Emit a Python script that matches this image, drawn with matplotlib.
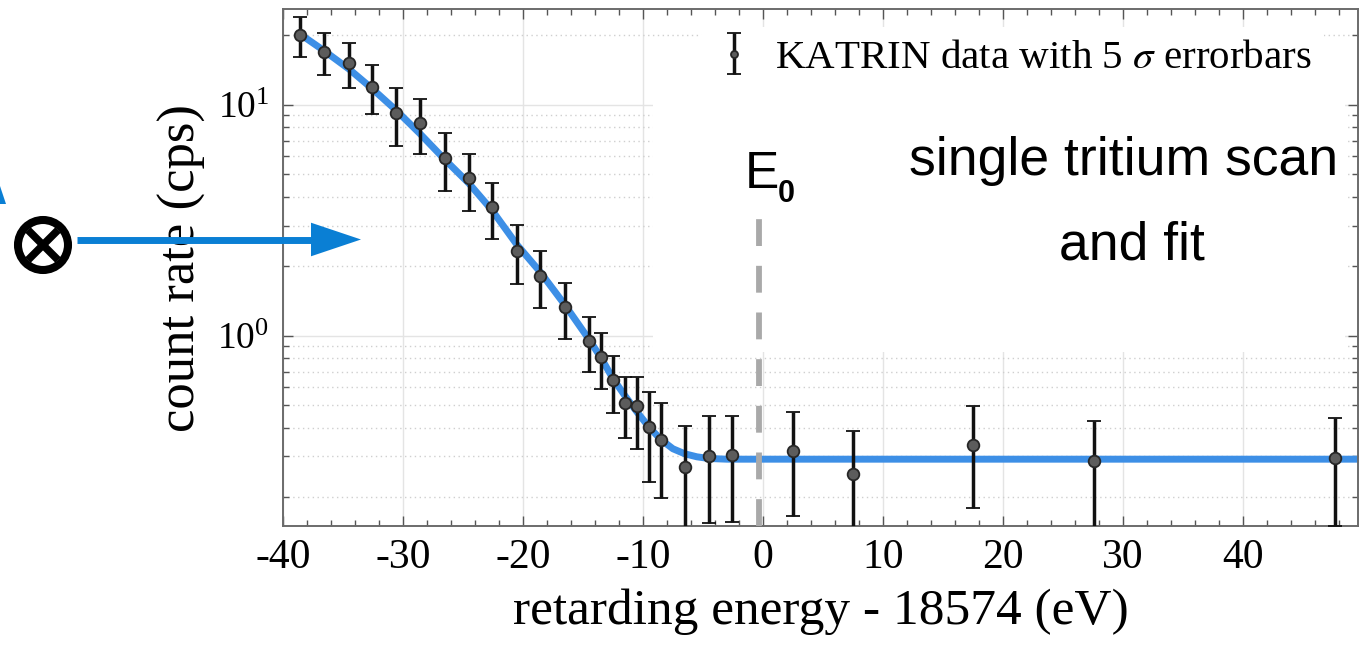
import matplotlib
matplotlib.use("Agg")
import matplotlib.pyplot as plt
from matplotlib.patches import Circle, Polygon, Rectangle
from matplotlib.ticker import MultipleLocator, LogLocator, NullFormatter

plt.rcParams['font.family'] = ['Liberation Serif', 'DejaVu Serif']
plt.rcParams['mathtext.fontset'] = 'stix'
plt.rcParams['axes.unicode_minus'] = False

# measured points (retarding energy - 18574 eV, count rate in cps, 5 sigma error)
energy = [-38.6, -36.6, -34.5, -32.6, -30.6, -28.6, -26.5, -24.5, -22.6, -20.5,
          -18.6, -16.5, -14.5, -13.5, -12.5, -11.5, -10.5, -9.5, -8.5, -6.5,
          -4.5, -2.6, 2.5, 7.5, 17.5, 27.6, 47.7]
rate = [20.1, 17.0, 15.2, 12.0, 9.26, 8.38, 5.90, 4.80, 3.61, 2.34,
        1.82, 1.33, 0.951, 0.806, 0.641, 0.512, 0.494, 0.401, 0.355, 0.269,
        0.301, 0.303, 0.316, 0.252, 0.337, 0.286, 0.295]
rate_err = [3.95, 3.5, 3.4, 2.9, 2.6, 2.25, 1.67, 1.33, 0.98, 0.67,
            0.5, 0.36, 0.255, 0.22, 0.18, 0.153, 0.172, 0.168, 0.156, 0.139,
            0.146, 0.147, 0.15, 0.133, 0.158, 0.14, 0.145]

# fit curve
fit_energy = [-38.6, -36.6, -34.5, -32.6, -30.6, -28.6, -26.5, -24.5, -22.6, -20.5,
              -18.6, -16.5, -14.5, -13.5, -12.5, -11.5, -10.5, -9.5, -8.5, -7.5,
              -6.5, -5.5, -4.5, -3.0, 49.6]
fit_rate = [20.3, 17.2, 14.3, 11.8, 9.51, 7.52, 5.79, 4.57, 3.51, 2.48,
            1.90, 1.36, 0.966, 0.804, 0.653, 0.550, 0.468, 0.403, 0.355, 0.324,
            0.308, 0.299, 0.294, 0.292, 0.292]

e0 = -0.35
e0_top = 3.2

fig = plt.figure(figsize=(13.63, 6.52), dpi=100)
ax = fig.add_axes([0.2076, 0.1933, 0.7887, 0.7922])
ax.set_yscale('log')
ax.set_xlim(-40, 49.6)
ax.set_ylim(0.15, 25.9)
ax.set_axisbelow(True)

ax.grid(True, which='major', color='#e4e4e4', lw=1.0, ls='-')
ax.grid(True, which='minor', axis='y', color='#cfcfcf', lw=1.0, ls=(0, (1, 2.5)))

# white panel pasted over the grid behind the annotation text
ax.add_patch(Rectangle((0.344, 0.337), 0.644, 0.542, transform=ax.transAxes,
                       facecolor='white', edgecolor='none', zorder=1))

ax.plot(fit_energy, fit_rate, color='#3d8fe6', lw=5.0, zorder=2,
        solid_joinstyle='round')
cont = ax.errorbar(energy, rate, yerr=rate_err, fmt='o', ms=8.4,
                   mfc='#5c5c5c', mec='#262626', mew=1.3,
                   ecolor='#111111', elinewidth=2.5, capsize=5.0, capthick=2.5,
                   zorder=3, label=r'KATRIN data with 5 $\sigma$ errorbars')
ax.plot([e0, e0], [0.15, e0_top], color='#a9a9a9', lw=4.2,
        dashes=(4.6, 3.4), zorder=4)

ax.xaxis.set_major_locator(MultipleLocator(10))
ax.xaxis.set_minor_locator(MultipleLocator(2))
ax.yaxis.set_minor_locator(LogLocator(base=10, subs=range(2, 10)))
ax.yaxis.set_minor_formatter(NullFormatter())
ax.tick_params(which='both', direction='in', top=True, right=True,
               color='#555555', width=1.0)
ax.tick_params(which='major', length=7)
ax.tick_params(which='minor', length=4)
ax.tick_params(axis='x', labelsize=30, pad=9)
ax.tick_params(axis='y', labelsize=27, pad=10)
for s in ax.spines.values():
    s.set_color('#6b6b6b')
    s.set_linewidth(1.4)

ax.set_xlabel('retarding energy - 18574 (eV)', fontsize=37, labelpad=8)
ax.set_ylabel('count rate (cps)', fontsize=38, labelpad=8)

leg = ax.legend(handles=[cont], loc='upper right', bbox_to_anchor=(0.968, 0.966),
                fontsize=29.5, frameon=True, facecolor='white', edgecolor='none',
                framealpha=1, borderaxespad=0, borderpad=0.3,
                handlelength=1.0, handletextpad=0.5, markerscale=0.6)

# overlay in pixel coordinates for annotations
ov = fig.add_axes([0, 0, 1, 1], zorder=10)
ov.set_xlim(0, 1363)
ov.set_ylim(652, 0)
ov.axis('off')

sans = ['Liberation Sans', 'DejaVu Sans']
ov.text(745, 188, 'E', fontsize=37, family=sans, ha='left', va='baseline')
ov.text(778, 202, '0', fontsize=22, family=sans, weight='bold', ha='left', va='baseline')
ov.text(1124, 175, 'single tritium scan', fontsize=38.5, family=sans,
        ha='center', va='baseline')
ov.text(1132, 260, 'and fit', fontsize=38.5, family=sans, ha='center', va='baseline')

ov.add_patch(Circle((43, 245), 25, fill=False, lw=5.8, ec='black'))
ov.plot([28, 58], [230, 260], color='black', lw=5.5, solid_capstyle='butt')
ov.plot([28, 58], [260, 230], color='black', lw=5.5, solid_capstyle='butt')

arrow_blue = '#0a7fd4'
ov.plot([77, 315], [239.5, 239.5], color=arrow_blue, lw=5, solid_capstyle='butt')
ov.add_patch(Polygon([(311, 222.7), (311, 256.3), (361, 239.5)], closed=True,
                     facecolor=arrow_blue, edgecolor='none'))
ov.add_patch(Polygon([(0, 186), (6, 204), (0, 204)], closed=True,
                     facecolor=arrow_blue, edgecolor='none'))

fig.savefig('out.png', dpi=100)
